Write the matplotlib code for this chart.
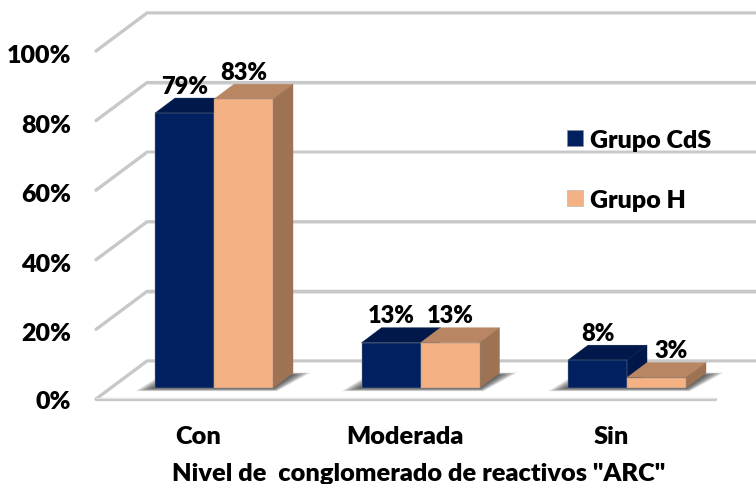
import matplotlib
matplotlib.use("Agg")
import matplotlib.pyplot as plt
from matplotlib.patches import Polygon, Patch

plt.rcParams['font.family'] = ['Lato', 'DejaVu Sans']

categories = ["Con", "Moderada", "Sin"]
series_names = ["Grupo CdS", "Grupo H"]
grupo_cds = [79, 13, 8]
grupo_h = [83, 13, 3]
y_ticks = [0, 20, 40, 60, 80, 100]
axis_title = 'Nivel de  conglomerado de reactivos "ARC"'

W, H = 756, 485
PX_X = 206.5        # pixels per category
PX_Y = 3.48         # pixels per percent
X0 = 214.0          # pixel x of first category
Y0 = 389            # pixel y of 0% at the bar front

fig = plt.figure(figsize=(W / 100, H / 100), dpi=100)
ax = fig.add_axes([0, 0, 1, 1])
ax.set_xlim(-X0 / PX_X, (W - X0) / PX_X)
ax.set_ylim((Y0 - H) / PX_Y, Y0 / PX_Y)
ax.axis("off")

dx = lambda px: px / PX_X
dy = lambda px: px / PX_Y

GRID = "#c8c8c8"
GRID_HI = "#e6e6e6"
TXT = dict(fontweight="heavy", color="black", ha="center", va="center", zorder=10)
BAR_W = dx(59)
DEPTH_X, DEPTH_Y = dx(20), dy(15)

# walls: left-side ticks + back lines
xf, xb = dx(96 - X0), dx(147 - X0)
xr = dx(W - X0)
yf, yb = dy(-11), dy(27)
for t in y_ticks:
    ax.plot([xf, xb, xr], [yf + t, yb + t, yb + t], color=GRID, lw=2.4,
            solid_capstyle="round", solid_joinstyle="miter", zorder=1)
    ax.plot([xb, xr], [yb + t - dy(1.2)] * 2, color=GRID_HI, lw=0.7, zorder=1.1)
ax.plot([xf, dx(715 - X0)], [yf, yf], color=GRID, lw=2.4, solid_capstyle="round", zorder=1)
ax.plot([xf, dx(715 - X0)], [yf + dy(1.2)] * 2, color=GRID_HI, lw=0.7, zorder=1.1)


def shadow(x_left, x_right):
    """Soft shadow on the floor under a pair of bars."""
    for k in range(20, 0, -1):
        pts = [(x_left - dx(k), dy(0 - k * 0.16)),
               (x_right + dx(k * 0.2), dy(0 - k * 0.16)),
               (x_right + dx(18 + k), dy(13 + k * 0.12)),
               (x_left + dx(22 - k * 0.6), dy(13 + k * 0.12))]
        ax.add_patch(Polygon(pts, closed=True, fc="#2a2a2a", ec="none", alpha=0.06, zorder=2))


def bar3d(x, h, front, top, side, z):
    l, r = x, x + BAR_W
    ax.add_patch(Polygon([(l, h), (r, h), (r + DEPTH_X, h + DEPTH_Y), (l + DEPTH_X, h + DEPTH_Y)],
                         closed=True, fc=top, ec=top, lw=0.3, zorder=z))
    ax.add_patch(Polygon([(r, 0), (r + DEPTH_X, DEPTH_Y), (r + DEPTH_X, h + DEPTH_Y), (r, h)],
                         closed=True, fc=side, ec=side, lw=0.3, zorder=z))
    ax.add_patch(Polygon([(l, 0), (r, 0), (r, h), (l, h)],
                         closed=True, fc=front, ec="#8f8f8f", lw=0.3, zorder=z))


NAVY = ("#00205f", "#00194a", "#001849")
PEACH = ("#f4b183", "#b98663", "#9d7353")
for i, (a, b) in enumerate(zip(grupo_cds, grupo_h)):
    shadow(i - BAR_W, i + BAR_W)
    bar3d(i - BAR_W, a, *NAVY, 3 + i)
    bar3d(i, b, *PEACH, 3 + i + 0.1)
    for j, v in enumerate((a, b)):
        xc = i - BAR_W / 2 + j * BAR_W
        if (i, j) == (2, 1):        # the 3% label sits to the right of its bar
            xc += dx(15)
        ax.text(xc, v + DEPTH_Y + dy(12.5), f"{v}%", fontsize=17, **TXT)

# y tick labels
for t in y_ticks:
    ax.text(dx(71 - X0), yf + t - dy(4 if t else 2), f"{t}%",
            **{**TXT, "ha": "right"}, fontsize=18)

# category labels and axis title
for i, c in enumerate(categories):
    ax.text(i - dx(16), dy(-48), c, fontsize=18.3, **TXT)
ax.text(dx(419 - X0), dy(-85), axis_title, fontsize=18.3, **TXT)

handles = [Patch(fc=NAVY[0], ec="#8c8c8c", lw=0.4), Patch(fc=PEACH[0], ec="#b0b0b0", lw=0.4)]
fig.legend(handles, series_names, loc="upper left", bbox_to_anchor=(567 / W, 1 - 130 / H),
           frameon=False, prop={"size": 18, "weight": "heavy"}, handlelength=0.64,
           handleheight=0.64, handletextpad=0.28, labelspacing=1.51, borderpad=0, borderaxespad=0)

fig.savefig("out.png", dpi=100)
